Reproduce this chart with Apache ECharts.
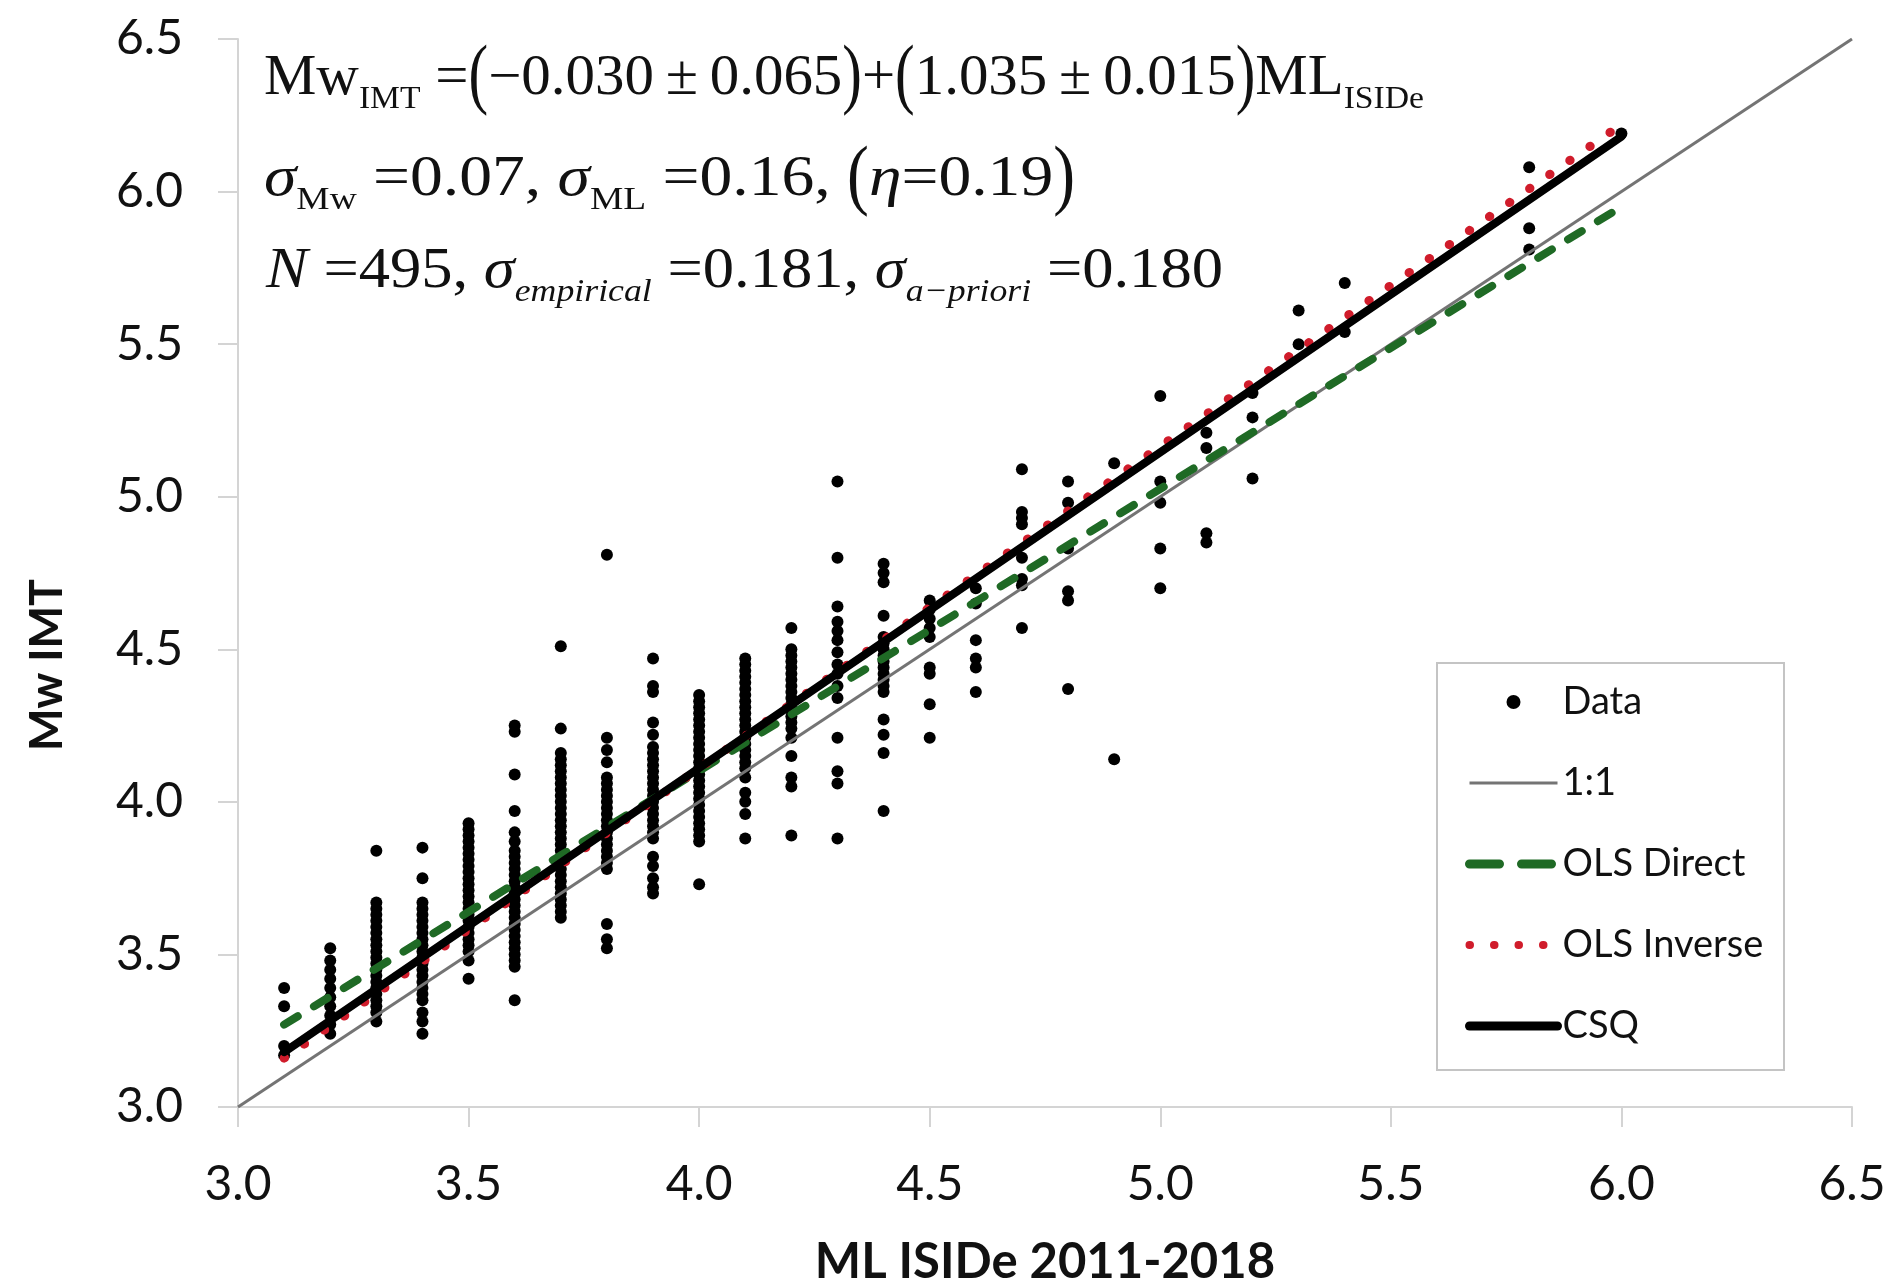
<!DOCTYPE html>
<html>
<head>
<meta charset="utf-8">
<script src="https://cdn.jsdelivr.net/npm/echarts@6/dist/echarts.min.js"></script>
<style>
  html, body { margin: 0; padding: 0; background: #ffffff; }
  #chart { width: 1898px; height: 1283px; }
</style>
</head>
<body>
<div id="chart"></div>
<script>
// ---------------- DATA ----------------
const AXIS_MIN = 3.0;
const AXIS_MAX = 6.5;
const AXIS_STEP = 0.5;

// ML ISIDe column positions of the data points
const ML_VALUES = [3.1, 3.2, 3.3, 3.4, 3.5, 3.6, 3.7, 3.8, 3.9, 4.0, 4.1, 4.2, 4.3, 4.4, 4.5,
                   4.6, 4.7, 4.8, 4.9, 5.0, 5.1, 5.2, 5.3, 5.4, 5.8, 6.0];

// Mw IMT values read for each ML column (same order as ML_VALUES)
const MW_BY_ML = [
  [3.39, 3.33, 3.20, 3.17],
  [3.52, 3.48, 3.45, 3.42, 3.39, 3.36, 3.33, 3.30, 3.27, 3.24],
  [3.84, 3.67, 3.65, 3.63, 3.61, 3.59, 3.57, 3.55, 3.53, 3.51, 3.49, 3.47, 3.45, 3.43, 3.41, 3.39, 3.37, 3.35, 3.33, 3.31, 3.28],
  [3.85, 3.75, 3.67, 3.65, 3.63, 3.61, 3.59, 3.57, 3.55, 3.53, 3.51, 3.49, 3.47, 3.45, 3.43, 3.41, 3.39, 3.37, 3.35, 3.31, 3.28, 3.24],
  [3.93, 3.91, 3.89, 3.87, 3.85, 3.83, 3.81, 3.79, 3.77, 3.75, 3.73, 3.71, 3.69, 3.67, 3.65, 3.63, 3.61, 3.59, 3.57, 3.55, 3.53, 3.51, 3.48, 3.42],
  [4.25, 4.23, 4.09, 3.97, 3.90, 3.87, 3.84, 3.82, 3.80, 3.78, 3.76, 3.74, 3.72, 3.70, 3.68, 3.66, 3.64, 3.62, 3.60, 3.58, 3.56, 3.54, 3.52, 3.50, 3.48, 3.46, 3.35],
  [4.51, 4.24, 4.16, 4.14, 4.12, 4.10, 4.08, 4.06, 4.04, 4.02, 4.00, 3.98, 3.96, 3.94, 3.92, 3.90, 3.88, 3.86, 3.84, 3.82, 3.80, 3.78, 3.76, 3.74, 3.72, 3.70, 3.68, 3.66, 3.64, 3.62],
  [4.81, 4.21, 4.17, 4.13, 4.08, 4.06, 4.04, 4.02, 4.00, 3.98, 3.96, 3.94, 3.92, 3.90, 3.88, 3.86, 3.84, 3.82, 3.80, 3.78, 3.60, 3.55, 3.52],
  [4.47, 4.38, 4.36, 4.26, 4.22, 4.18, 4.16, 4.14, 4.12, 4.10, 4.08, 4.06, 4.04, 4.02, 4.00, 3.98, 3.96, 3.94, 3.92, 3.90, 3.88, 3.82, 3.79, 3.75, 3.72, 3.70],
  [4.35, 4.33, 4.31, 4.29, 4.27, 4.25, 4.23, 4.21, 4.19, 4.17, 4.15, 4.13, 4.11, 4.09, 4.07, 4.05, 4.03, 4.01, 3.99, 3.97, 3.95, 3.93, 3.91, 3.89, 3.87, 3.73],
  [4.47, 4.45, 4.43, 4.41, 4.39, 4.37, 4.35, 4.33, 4.31, 4.29, 4.27, 4.25, 4.23, 4.21, 4.19, 4.17, 4.15, 4.13, 4.11, 4.08, 4.03, 4.00, 3.96, 3.88],
  [4.57, 4.50, 4.48, 4.46, 4.44, 4.42, 4.40, 4.38, 4.36, 4.34, 4.32, 4.30, 4.28, 4.26, 4.24, 4.21, 4.15, 4.08, 4.05, 3.89],
  [5.05, 4.80, 4.64, 4.59, 4.56, 4.53, 4.49, 4.45, 4.42, 4.38, 4.34, 4.21, 4.10, 4.06, 3.88],
  [4.78, 4.75, 4.72, 4.61, 4.54, 4.52, 4.50, 4.48, 4.46, 4.44, 4.42, 4.40, 4.38, 4.36, 4.27, 4.22, 4.16, 3.97],
  [4.66, 4.63, 4.60, 4.57, 4.54, 4.44, 4.42, 4.32, 4.21],
  [4.70, 4.65, 4.53, 4.47, 4.44, 4.36],
  [5.09, 4.95, 4.93, 4.91, 4.80, 4.73, 4.71, 4.57],
  [5.05, 4.98, 4.83, 4.69, 4.66, 4.37],
  [5.11, 4.14],
  [5.33, 5.05, 4.98, 4.83, 4.70],
  [5.21, 5.16, 4.88, 4.85],
  [5.34, 5.26, 5.06],
  [5.61, 5.50],
  [5.70, 5.54],
  [6.08, 5.88, 5.81],
  [6.19]
];

// Reference / regression lines (end points)
const ONE_TO_ONE_X = [3.0, 6.5];
const ONE_TO_ONE_Y = [3.0, 6.5];
const OLS_DIRECT_X = [3.1, 6.0];
const OLS_DIRECT_Y = [3.27, 5.95];
const OLS_INVERSE_X = [3.1, 6.0];
const OLS_INVERSE_Y = [3.16, 6.22];
const CSQ_X = [3.1, 6.0];
const CSQ_Y = [3.18, 6.18];

const LEGEND_NAMES = ['Data', '1:1', 'OLS Direct', 'OLS Inverse', 'CSQ'];

// ---------------- BUILD ----------------
const scatterData = [];
ML_VALUES.forEach((ml, i) => MW_BY_ML[i].forEach(mw => scatterData.push([ml, mw])));
const pairs = (xs, ys) => xs.map((x, i) => [x, ys[i]]);

const SANS = 'Lato, "Open Sans", sans-serif';
const SERIF = '"Liberation Serif", "Times New Roman", serif';

const GREEN = '#1f6a25';
const RED = '#d01c2b';
const GRAY = '#747474';

// Annotation text (equation block)
const MAIN = 56, SUB = 32, SUB_DY = 14;
const ctx = document.createElement('canvas').getContext('2d');
function fontInfo(kind) {
  const italic = (kind === 'i' || kind === 'si');
  const sub = (kind === 's' || kind === 'si');
  const size = sub ? SUB : MAIN;
  return { italic, sub, size, css: (italic ? 'italic ' : '') + size + 'px ' + SERIF };
}
function buildLine(segs, x0, x1, baseline) {
  const children = [];
  let x = 0;
  segs.forEach(([t, kind]) => {
    const f = fontInfo(kind === 'p' ? 'n' : kind);
    ctx.font = f.css;
    ctx.textBaseline = 'middle';
    const w = ctx.measureText(t).width;
    const off = ctx.measureText('M').actualBoundingBoxDescent;
    const base = baseline + (f.sub ? SUB_DY : 0);
    const el = {
      type: 'text', x: x, y: base - off,
      style: {
        text: t, fontSize: f.size, fontFamily: SERIF,
        fontStyle: f.italic ? 'italic' : 'normal',
        fill: '#111', align: 'left', verticalAlign: 'middle'
      }
    };
    if (kind === 'p') { el.scaleY = 1.4; el.originY = 2; }
    children.push(el);
    x += w;
  });
  return { type: 'group', x: x0, y: 0, scaleX: (x1 - x0) / x, children };
}
const EQ_LINE_1 = [['Mw','n'],['IMT','s'],[' =','n'],['(','p'],['\u22120.030\u2009\u00b1\u20090.065','n'],[')','p'],['+','n'],['(','p'],['1.035\u2009\u00b1\u20090.015','n'],[')','p'],['ML','n'],['ISIDe','s']];
const EQ_LINE_2 = [['\u03c3','i'],['Mw','s'],[' =0.07, ','n'],['\u03c3','i'],['ML','s'],[' =0.16, ','n'],['(','p'],['\u03b7','i'],['=0.19','n'],[')','p']];
const EQ_LINE_3 = [['N','i'],[' =495, ','n'],['\u03c3','i'],['empirical','si'],[' =0.181, ','n'],['\u03c3','i'],['a\u2212priori','si'],[' =0.180','n']];

const chart = echarts.init(document.getElementById('chart'), null, { renderer: 'canvas' });

const axisCommon = {
  type: 'value', min: AXIS_MIN, max: AXIS_MAX, interval: AXIS_STEP,
  axisLine: { show: true, onZero: false, lineStyle: { color: '#d4d4d4', width: 2 } },
  axisTick: { show: true, inside: false, length: 20, lineStyle: { color: '#d4d4d4', width: 2 } },
  splitLine: { show: false },
  axisLabel: { color: '#111', fontFamily: SANS, fontSize: 48, formatter: v => v.toFixed(1) }
};

const hiddenSymbol = { opacity: 0 };

const option = {
  backgroundColor: '#ffffff',
  animation: false,
  grid: { left: 238, right: 46, top: 39, bottom: 176, containLabel: false, outerBoundsMode: 'none' },
  xAxis: Object.assign({}, axisCommon, {
    name: 'ML ISIDe 2011-2018', nameLocation: 'middle', nameGap: 131,
    nameTextStyle: { color: '#111', fontFamily: SANS, fontWeight: 'bold', fontSize: 49 },
    axisLabel: Object.assign({}, axisCommon.axisLabel, { margin: 54 })
  }),
  yAxis: Object.assign({}, axisCommon, {
    name: 'Mw IMT', nameLocation: 'middle', nameGap: 168, nameRotate: 90,
    nameTextStyle: { color: '#111', fontFamily: SANS, fontWeight: 'bold', fontSize: 45,
                     padding: [0, 184, 0, 0] },
    axisLabel: Object.assign({}, axisCommon.axisLabel, { margin: 55 })
  }),
  legend: {
    orient: 'vertical', left: 1465, top: 682, padding: 0,
    itemWidth: 88, itemHeight: 14, itemGap: 41,
    selectedMode: false,
    textStyle: { fontFamily: SANS, fontSize: 38, color: '#111', lineHeight: 40 },
    data: [
      { name: LEGEND_NAMES[0], icon: 'circle', itemStyle: { color: '#000' } },
      { name: LEGEND_NAMES[1], itemStyle: hiddenSymbol, lineStyle: { width: 3, color: GRAY } },
      { name: LEGEND_NAMES[2], itemStyle: hiddenSymbol, lineStyle: { width: 9, color: GREEN, type: [30, 22], cap: 'round' } },
      { name: LEGEND_NAMES[3], itemStyle: hiddenSymbol, lineStyle: { width: 8, color: RED, type: [0.5, 24], cap: 'round' } },
      { name: LEGEND_NAMES[4], itemStyle: hiddenSymbol, lineStyle: { width: 9, color: '#000', cap: 'round' } }
    ]
  },
  graphic: [
    { type: 'rect', shape: { x: 1437, y: 663, width: 347, height: 407 },
      style: { fill: 'none', stroke: '#c4c4c4', lineWidth: 2 }, z: 1 },
    buildLine(EQ_LINE_1, 264, 1424, 94),
    buildLine(EQ_LINE_2, 264, 1075, 195),
    buildLine(EQ_LINE_3, 266, 1223, 287)
  ],
  series: [
    { name: LEGEND_NAMES[0], type: 'scatter', data: scatterData, symbol: 'circle', symbolSize: 12,
      itemStyle: { color: '#000', opacity: 1 }, z: 2 },
    { name: LEGEND_NAMES[1], type: 'line', data: pairs(ONE_TO_ONE_X, ONE_TO_ONE_Y), symbol: 'none',
      itemStyle: { color: GRAY }, lineStyle: { color: GRAY, width: 3 }, z: 3 },
    { name: LEGEND_NAMES[2], type: 'line', data: pairs(OLS_DIRECT_X, OLS_DIRECT_Y), symbol: 'none',
      itemStyle: { color: GREEN }, lineStyle: { color: GREEN, width: 8, type: [16, 19], cap: 'round' }, z: 4 },
    { name: LEGEND_NAMES[3], type: 'line', data: pairs(OLS_INVERSE_X, OLS_INVERSE_Y), symbol: 'none',
      itemStyle: { color: RED }, lineStyle: { color: RED, width: 9, type: [0.5, 24], cap: 'round' }, z: 5 },
    { name: LEGEND_NAMES[4], type: 'line', data: pairs(CSQ_X, CSQ_Y), symbol: 'none',
      itemStyle: { color: '#000' }, lineStyle: { color: '#000', width: 8, cap: 'round' }, z: 6 }
  ]
};
chart.setOption(option);
</script>
</body>
</html>
